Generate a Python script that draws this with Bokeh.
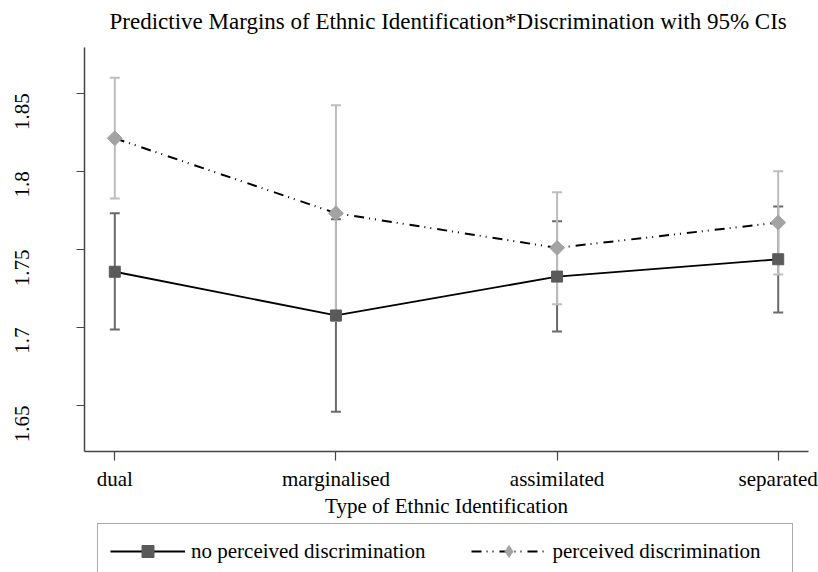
import math
from bokeh.plotting import figure
from bokeh.layouts import column
from bokeh.models import (ColumnDataSource, FixedTicker, Whisker, TeeHead, Legend,
                          LegendItem, Range1d)
from bokeh.embed import file_html
from bokeh.resources import INLINE

# Predictive margins by type of ethnic identification
categories = ["dual", "marginalised", "assimilated", "separated"]

no_disc = [1.7357, 1.7077, 1.7326, 1.7437]
no_disc_lo = [1.6987, 1.6460, 1.6974, 1.7096]
no_disc_hi = [1.7732, 1.7694, 1.7681, 1.7775]

disc = [1.8212, 1.7732, 1.7510, 1.7672]
disc_lo = [1.7826, 1.7041, 1.7149, 1.7339]
disc_hi = [1.8599, 1.8423, 1.7866, 1.8001]

series_labels = ["no perceived discrimination", "perceived discrimination"]

y_ticks = [1.65, 1.70, 1.75, 1.80, 1.85]
y_tick_labels = ["1.65", "1.7", "1.75", "1.8", "1.85"]

TITLE = "Predictive Margins of Ethnic Identification*Discrimination with 95% CIs"
X_LABEL = "Type of Ethnic Identification"

FONT = "Liberation Serif"
DARK_CI = "#6a6a6a"
DARK_MK = "#5a5a5a"
LIGHT_CI = "#bdbdbd"
LIGHT_MK = "#a3a3a3"
DASHDOT = "10 5 1 5 1 6"

# every strip shares the same side borders so the column keeps them aligned
BORDER_L, BORDER_R = 84, 10

xpos = list(range(1, len(categories) + 1))
src_no = ColumnDataSource(dict(x=xpos, y=no_disc, lo=no_disc_lo, hi=no_disc_hi))
src_d = ColumnDataSource(dict(x=xpos, y=disc, lo=disc_lo, hi=disc_hi))

# title strip
head = figure(width=818, height=47, output_backend="svg", toolbar_location=None,
              title=TITLE, x_range=Range1d(0, 1), y_range=Range1d(0, 1),
              x_axis_type=None, y_axis_type=None, min_border=0,
              min_border_left=BORDER_L, min_border_right=BORDER_R)
head.outline_line_color = None
head.grid.visible = False
head.title.align = "left"
head.title.offset = 25
head.title.vertical_align = "top"
head.title.standoff = 16
head.title.text_font = FONT
head.title.text_font_size = "23px"
head.title.text_font_style = "normal"
head.title.text_color = "black"

# main plot
p = figure(width=818, height=475, output_backend="svg", toolbar_location=None,
           title=None,
           x_range=Range1d(0.863, 4.137), y_range=Range1d(1.6206, 1.8793),
           min_border_left=BORDER_L, min_border_right=BORDER_R, min_border_top=0,
           min_border_bottom=71)
p.outline_line_color = None
p.grid.visible = False
p.background_fill_color = "white"
p.border_fill_color = "white"

for ax in (p.xaxis[0], p.yaxis[0]):
    ax.axis_line_color = "#444444"
    ax.axis_line_width = 1.5
    ax.major_tick_line_color = "#444444"
    ax.major_tick_line_width = 1.2
    ax.major_tick_in = 0
    ax.minor_tick_line_color = None
    ax.major_label_text_font = FONT
    ax.major_label_text_font_size = "21px"
    ax.major_label_text_color = "black"

p.xaxis.ticker = FixedTicker(ticks=xpos)
p.xaxis.major_label_overrides = {x: c for x, c in zip(xpos, categories)}
p.xaxis.major_tick_out = 9
p.xaxis.major_label_standoff = 6
p.xaxis.axis_label = X_LABEL
p.xaxis.axis_label_text_font = FONT
p.xaxis.axis_label_text_font_size = "21px"
p.xaxis.axis_label_text_font_style = "normal"
p.xaxis.axis_label_text_color = "black"
p.xaxis.axis_label_standoff = 0

p.yaxis.ticker = FixedTicker(ticks=y_ticks)
p.yaxis.major_label_overrides = {t: s for t, s in zip(y_ticks, y_tick_labels)}
p.yaxis.major_label_orientation = math.pi / 2
p.yaxis.major_label_text_font = FONT
p.yaxis.major_tick_out = 8
p.yaxis.major_label_standoff = 54

# confidence intervals
for src, col in ((src_no, DARK_CI), (src_d, LIGHT_CI)):
    w = Whisker(source=src, base="x", lower="lo", upper="hi", dimension="height",
                line_color=col, line_width=2,
                upper_head=TeeHead(size=10, line_color=col, line_width=2),
                lower_head=TeeHead(size=10, line_color=col, line_width=2))
    p.add_layout(w)

# series
p.line("x", "y", source=src_no, line_color="black", line_width=1.8)
p.scatter("x", "y", source=src_no, marker="square", size=11,
          fill_color=DARK_MK, line_color=DARK_MK)
p.line("x", "y", source=src_d, line_color="black", line_width=2, line_dash=DASHDOT)
p.scatter("x", "y", source=src_d, marker="square", angle=math.pi / 4, size=10.5,
          fill_color=LIGHT_MK, line_color=LIGHT_MK)

# legend strip beneath the plot; its renderers reuse the series sources,
# which fall outside this strip's ranges, so only the legend swatches show
leg = figure(width=818, height=50, output_backend="svg", toolbar_location=None,
             title=None, x_range=Range1d(0, 1), y_range=Range1d(0, 1),
             x_axis_type=None, y_axis_type=None, min_border=0,
             min_border_left=BORDER_L, min_border_right=BORDER_R)
leg.outline_line_color = None
leg.grid.visible = False
k1 = leg.line("x", "y", source=src_no, line_color="black", line_width=1.8)
s1 = leg.scatter("x", "y", source=src_no, marker="square",
                 fill_color=DARK_MK, line_color=DARK_MK)
k2 = leg.line("x", "y", source=src_d, line_color="black", line_width=2,
              line_dash=DASHDOT)
s2 = leg.scatter("x", "y", source=src_d, marker="diamond",
                 fill_color=LIGHT_MK, line_color=LIGHT_MK)

legend = Legend(items=[LegendItem(label=series_labels[0], renderers=[k1, s1]),
                       LegendItem(label=series_labels[1], renderers=[k2, s2])],
                orientation="horizontal", location=(13, -7),
                glyph_width=75, glyph_height=30, label_height=30, label_width=228,
                label_standoff=6, spacing=46, padding=12, margin=0,
                label_text_font=FONT, label_text_font_size="21px",
                label_text_color="black",
                border_line_color="#555555", border_line_width=1.5,
                background_fill_color="white", background_fill_alpha=1.0)
leg.add_layout(legend, "center")

layout = column(head, p, leg, spacing=0)
open("out.html", "w").write(file_html(layout, INLINE))
